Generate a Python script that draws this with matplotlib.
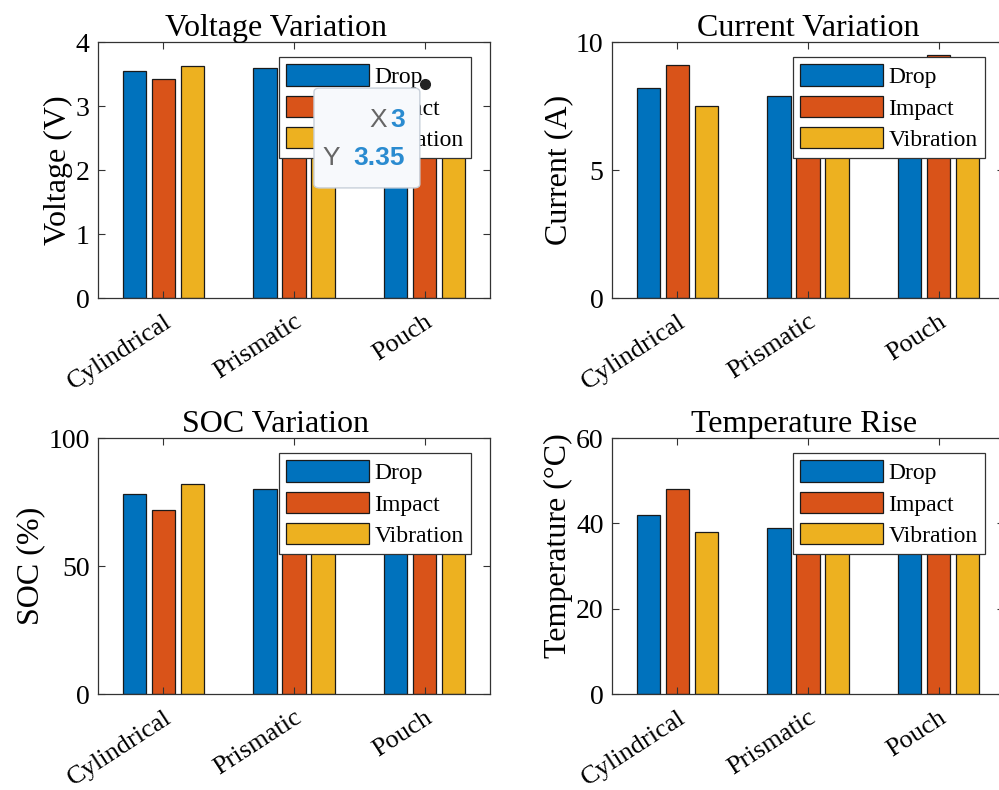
import matplotlib.pyplot as plt
from matplotlib.patches import FancyBboxPatch
import numpy as np

plt.rcParams['font.family'] = ['Liberation Serif', 'DejaVu Serif']

cells = ['Cylindrical', 'Prismatic', 'Pouch']
tests = ['Drop', 'Impact', 'Vibration']
colors = ['#0072BD', '#D95319', '#EDB120']

# values per cell type: [Drop, Impact, Vibration]
voltage = [[3.55, 3.42, 3.62], [3.60, 3.50, 3.55], [3.45, 3.35, 3.50]]
current = [[8.2, 9.1, 7.5], [7.9, 8.8, 7.2], [8.5, 9.5, 7.8]]
soc = [[78, 72, 82], [80, 74, 83], [76, 70, 79]]
temperature = [[42, 48, 38], [39, 45, 36], [44, 50, 40]]

panels = [
    ('Voltage Variation', 'Voltage (V)', voltage, 4, [0, 1, 2, 3, 4]),
    ('Current Variation', 'Current (A)', current, 10, [0, 5, 10]),
    ('SOC Variation', 'SOC (%)', soc, 100, [0, 50, 100]),
    ('Temperature Rise', 'Temperature (\u00b0C)', temperature, 60, [0, 20, 40, 60]),
]

W, H = 999, 790
fig = plt.figure(figsize=(W / 100, H / 100), dpi=100)
# axes boxes in pixels: left, top, right, bottom
boxes = [(98, 42, 490, 298), (612, 42, 1004, 298),
         (98, 438, 490, 694), (612, 438, 1004, 694)]
title_x = [0.454, 0.5, 0.454, 0.49]

axes = []
for k, ((title, ylabel, data, ymax, yticks), (l, t, r, b)) in enumerate(zip(panels, boxes)):
    ax = fig.add_axes([l / W, 1 - b / H, (r - l) / W, (b - t) / H])
    axes.append(ax)
    vals = np.array(data)
    x = np.arange(1, len(cells) + 1)
    for i, name in enumerate(tests):
        ax.bar(x + (i - 1) * 0.222, vals[:, i], width=0.18, color=colors[i],
               edgecolor='#1a1a1a', linewidth=0.9, label=name)
    ax.set_xlim(0.5, 3.5)
    ax.set_ylim(0, ymax)
    ax.set_yticks(yticks)
    ax.set_xticks(x)
    ax.set_xticklabels(cells, rotation=33, ha='right', rotation_mode='anchor')
    ax.tick_params(direction='in', top=True, right=True, labelsize=20,
                   length=5, width=0.8, color='#333333', pad=6)
    ax.tick_params(axis='x', pad=9, labelsize=19)
    for s in ax.spines.values():
        s.set_color('#333333')
        s.set_linewidth(0.9)
    ax.set_title(title, fontsize=23, pad=4, x=title_x[k])
    ax.set_ylabel(ylabel, fontsize=23, labelpad=2)
    if k == 3:
        ax.yaxis.label.set_y(0.58)
    leg = ax.legend(loc='upper right', bbox_to_anchor=(0.951, 0.94), fontsize=17,
                    handlelength=3.5, handleheight=1.0, labelspacing=0.33,
                    handletextpad=0.25, borderpad=0.3, borderaxespad=0,
                    fancybox=False, framealpha=1)
    leg.get_frame().set_edgecolor('#333333')
    leg.get_frame().set_linewidth(0.9)

# data tip on the voltage panel
ax = axes[0]
ax.plot([3], [3.35], 'o', color='#222222', markersize=7, zorder=10)
tip = FancyBboxPatch((0.551, 0.43), 0.27, 0.39, transform=ax.transAxes,
                     boxstyle='round,pad=0,rounding_size=0.015',
                     facecolor='#f7f9fc', edgecolor='#c8d0da', linewidth=1, zorder=11)
ax.add_patch(tip)
tipfont = dict(transform=ax.transAxes, va='center', fontsize=19,
               family='Liberation Sans', zorder=12)
ax.text(0.737, 0.695, 'X', ha='right', color='#666666', **tipfont)
ax.text(0.783, 0.695, '3', ha='right', color='#2a8bd0', fontweight='bold', **tipfont)
ax.text(0.617, 0.547, 'Y', ha='right', color='#666666', **tipfont)
ax.text(0.783, 0.547, '3.35', ha='right', color='#2a8bd0', fontweight='bold', **tipfont)

fig.savefig('out.png', dpi=100)
